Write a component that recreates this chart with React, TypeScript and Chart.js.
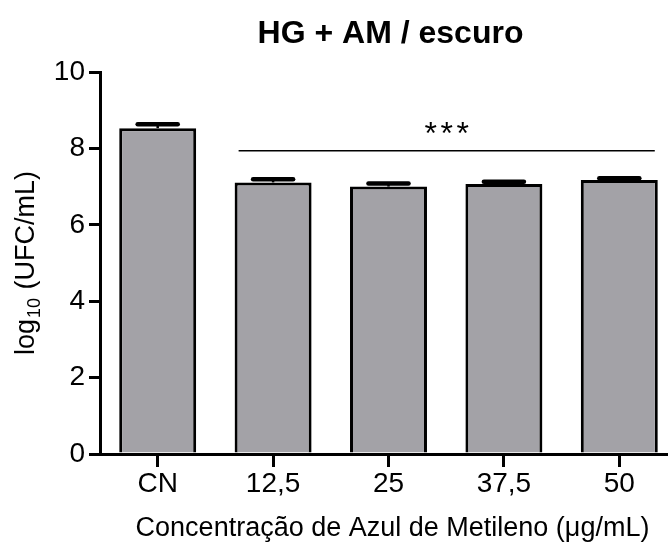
import React, { useEffect, useRef } from 'react';
import { Chart, registerables } from 'chart.js';

Chart.register(...registerables);

const categories = ['CN', '12,5', '25', '37,5', '50'];
const means = [8.53, 7.11, 7.0, 7.07, 7.17];
const errors = [0.1, 0.08, 0.08, 0.06, 0.05];
const yTicks = [0, 2, 4, 6, 8, 10];
const chartTitle = 'HG + AM / escuro';
const xTitle = 'Concentração de Azul de Metileno (μg/mL)';
const yTitleMain = 'log';
const yTitleSub = '10';
const yTitleRest = ' (UFC/mL)';
const sigFrom = 1;
const sigTo = 4;
const sigLevel = 7.94;
const sigLabel = '***';

const FONT = '"Liberation Sans", Arial, sans-serif';

const overlay = {
  id: 'overlay',
  afterDatasetsDraw(chart: any) {
    const ctx = chart.ctx as CanvasRenderingContext2D;
    const meta = chart.getDatasetMeta(0);
    const ys = chart.scales.y;
    const area = chart.chartArea;
    ctx.save();
    ctx.strokeStyle = '#000';
    ctx.fillStyle = '#000';
    // error bars
    meta.data.forEach((bar: any, i: number) => {
      const top = ys.getPixelForValue(means[i] + errors[i]);
      const x = bar.x;
      const half = bar.width * 0.26;
      ctx.lineCap = 'butt';
      ctx.lineWidth = 2.5;
      ctx.beginPath();
      ctx.moveTo(x, bar.y);
      ctx.lineTo(x, top);
      ctx.stroke();
      ctx.lineCap = 'round';
      ctx.lineWidth = 4.5;
      ctx.beginPath();
      ctx.moveTo(x - half, top);
      ctx.lineTo(x + half, top);
      ctx.stroke();
    });
    // significance line
    const b1 = meta.data[sigFrom];
    const b2 = meta.data[sigTo];
    const x1 = b1.x - b1.width / 2 + 4;
    const x2 = b2.x + b2.width / 2 - 3;
    const sy = ys.getPixelForValue(sigLevel);
    ctx.lineCap = 'butt';
    ctx.lineWidth = 1.5;
    ctx.beginPath();
    ctx.moveTo(x1, sy);
    ctx.lineTo(x2, sy);
    ctx.stroke();
    ctx.font = `32px ${FONT}`;
    ctx.textAlign = 'center';
    ctx.textBaseline = 'alphabetic';
    const cx = (x1 + x2) / 2;
    const chars = sigLabel.split('');
    chars.forEach((c, k) => {
      ctx.fillText(c, cx + (k - (chars.length - 1) / 2) * 16, sy - 7);
    });
    // title
    const mid = (area.left + area.right) / 2;
    ctx.font = `bold 32px ${FONT}`;
    ctx.fillText(chartTitle, mid + 2, 43);
    // x title
    ctx.font = `27px ${FONT}`;
    ctx.fillText(xTitle, mid + 4, 536);
    // y title
    ctx.save();
    ctx.translate(0, (area.top + area.bottom) / 2);
    ctx.rotate(-Math.PI / 2);
    ctx.textAlign = 'left';
    const mainFont = `27px ${FONT}`;
    const subFont = `18px ${FONT}`;
    ctx.font = mainFont;
    const w1 = ctx.measureText(yTitleMain).width;
    const w3 = ctx.measureText(yTitleRest).width;
    ctx.font = subFont;
    const w2 = ctx.measureText(yTitleSub).width + 2;
    const total = w1 + w2 + w3;
    let px = -total / 2;
    const base = 34;
    ctx.font = mainFont;
    ctx.fillText(yTitleMain, px, base);
    px += w1 + 1;
    ctx.font = subFont;
    ctx.fillText(yTitleSub, px, base + 6);
    px += w2 - 1;
    ctx.font = mainFont;
    ctx.fillText(yTitleRest, px, base);
    ctx.restore();
    ctx.restore();
  },
};

export default function App() {
  const ref = useRef<HTMLCanvasElement | null>(null);
  useEffect(() => {
    if (!ref.current) return;
    const chart = new Chart(ref.current, {
      type: 'bar',
      data: {
        labels: categories,
        datasets: [
          {
            data: means,
            backgroundColor: '#a3a2a7',
            borderColor: '#000',
            borderWidth: 3,
            borderSkipped: 'start',
            barPercentage: 0.667,
            categoryPercentage: 1,
          },
        ],
      },
      options: {
        responsive: false,
        animation: false,
        layout: { padding: { top: 72, left: 0, right: 0, bottom: 0 } },
        plugins: {
          legend: { display: false },
          tooltip: { enabled: false },
          title: { display: false },
        },
        scales: {
          x: {
            offset: true,
            grid: {
              display: true,
              drawOnChartArea: false,
              drawTicks: true,
              tickLength: 13,
              lineWidth: 3,
              color: '#000',
              offset: false,
            },
            border: { display: true, width: 3, color: '#000' },
            ticks: { color: '#000', font: { family: FONT, size: 28 }, padding: 0, maxRotation: 0 },
            afterFit: (s: any) => {
              s.height = 88;
            },
          },
          y: {
            min: 0,
            max: 10,
            afterBuildTicks: (s: any) => {
              s.ticks = yTicks.map((v) => ({ value: v }));
            },
            grid: {
              display: true,
              drawOnChartArea: false,
              drawTicks: true,
              tickLength: 11,
              lineWidth: 3,
              color: '#000',
            },
            border: { display: true, width: 3, color: '#000' },
            ticks: { color: '#000', font: { family: FONT, size: 28 }, padding: 4 },
            afterFit: (s: any) => {
              s.width = 100;
            },
          },
        },
      },
      plugins: [overlay],
    });
    return () => chart.destroy();
  }, []);
  return (
    <div
      style={{
        position: 'fixed',
        left: 0,
        top: 0,
        width: 668,
        height: 542,
        overflow: 'hidden',
        background: '#fff',
      }}
    >
      <canvas ref={ref} width={677} height={542} style={{ width: 677, height: 542, display: 'block' }} />
    </div>
  );
}
